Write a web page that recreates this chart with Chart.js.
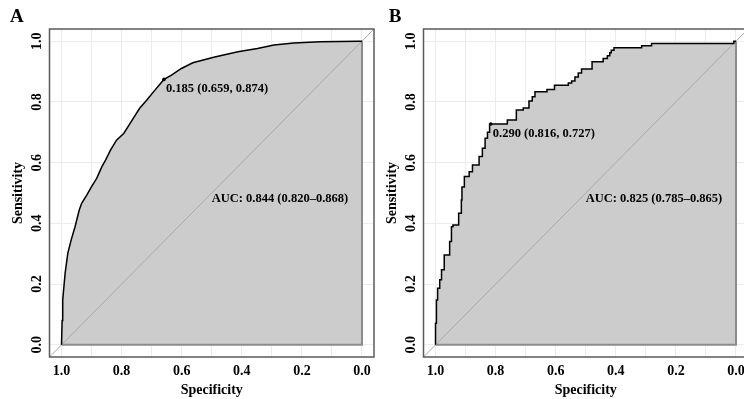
<!DOCTYPE html>
<html>
<head>
<meta charset="utf-8">
<script src="https://cdn.jsdelivr.net/npm/chart.js@4.4.1/dist/chart.umd.min.js"></script>
<style>
html, body { margin: 0; padding: 0; background: #fff; overflow: hidden; }
#wrap { position: relative; width: 744px; height: 399px; overflow: hidden; }
.panel { position: absolute; top: 0; width: 378px; height: 399px; }
#panelA { left: 0; }
#panelB { left: 374px; }
</style>
</head>
<body>
<div id="wrap">
  <div class="panel" id="panelA"><canvas id="rocA" width="378" height="399"></canvas></div>
  <div class="panel" id="panelB"><canvas id="rocB" width="378" height="399"></canvas></div>
</div>
<script>
// ROC curve A (specificity, sensitivity)
var specA = [1.000, 0.998, 0.996, 0.988, 0.979, 0.968, 0.955, 0.941, 0.933, 0.916, 0.900, 0.883, 0.866,
             0.853, 0.837, 0.817, 0.793, 0.765, 0.740, 0.716, 0.694, 0.659, 0.634, 0.601, 0.563, 0.490,
             0.413, 0.348, 0.293, 0.227, 0.140, 0.010, 0.000];
var sensA = [0.000, 0.080, 0.148, 0.236, 0.302, 0.345, 0.389, 0.444, 0.466, 0.493, 0.521, 0.548, 0.586,
             0.609, 0.641, 0.674, 0.696, 0.740, 0.779, 0.806, 0.833, 0.874, 0.888, 0.910, 0.929, 0.948,
             0.965, 0.976, 0.987, 0.994, 0.998, 1.000, 1.000];

// ROC curve B (step curve)
var specB = [1.000, 0.997, 0.993, 0.986, 0.980, 0.971, 0.953, 0.947, 0.942, 0.923, 0.914, 0.912, 0.904,
             0.888, 0.877, 0.855, 0.844, 0.835, 0.827, 0.820, 0.761, 0.731, 0.708, 0.689, 0.678, 0.669,
             0.629, 0.604, 0.558, 0.547, 0.536, 0.525, 0.514, 0.479, 0.442, 0.428, 0.420, 0.415, 0.406,
             0.314, 0.281, 0.007, 0.000];
var sensB = [0.000, 0.071, 0.148, 0.186, 0.214, 0.247, 0.296, 0.340, 0.389, 0.395, 0.433, 0.477, 0.520,
             0.554, 0.570, 0.592, 0.620, 0.647, 0.680, 0.700, 0.727, 0.740, 0.773, 0.780, 0.803, 0.817,
             0.833, 0.841, 0.855, 0.862, 0.869, 0.882, 0.895, 0.908, 0.932, 0.943, 0.952, 0.962, 0.970,
             0.978, 0.985, 0.992, 1.000];

// best threshold: [threshold, specificity, sensitivity]
var cutA = [0.185, 0.659, 0.874];
var cutB = [0.290, 0.816, 0.727];
// AUC with 95% CI
var aucA = [0.844, 0.820, 0.868];
var aucB = [0.825, 0.785, 0.865];

var xGrid = [0, 0.1, 0.2, 0.3, 0.4, 0.5, 0.6, 0.7, 0.8, 0.9, 1.0];
var xTicks = [0, 0.2, 0.4, 0.6, 0.8, 1.0];
var yTicks = [0, 0.2, 0.4, 0.6, 0.8, 1.0];

var SERIF = '"Liberation Serif", "Times New Roman", serif';
var boldFont = { family: SERIF, weight: 'bold', size: 14 };

function toPoints(spec, sens) {
    var pts = [], i;
    for (i = 0; i < spec.length; i += 1) {
        pts.push({ x: spec[i], y: sens[i] });
    }
    return pts;
}

var rocDecor = {
    id: 'rocDecor',
    afterDatasetDraw: function (chart, args) {
        if (args.index !== 1) {
            return;
        }
        // chance line, drawn over the AUC polygon but under the curve
        var ctx = chart.ctx, a = chart.chartArea, xs = chart.scales.x, ys = chart.scales.y;
        ctx.save();
        ctx.beginPath();
        ctx.rect(a.left, a.top, a.right - a.left, a.bottom - a.top);
        ctx.clip();
        ctx.beginPath();
        ctx.moveTo(xs.getPixelForValue(xs.max), ys.getPixelForValue(1 - xs.max));
        ctx.lineTo(xs.getPixelForValue(xs.min), ys.getPixelForValue(1 - xs.min));
        ctx.strokeStyle = '#a9a9a9';
        ctx.lineWidth = 1;
        ctx.stroke();
        ctx.restore();
    },
    afterDraw: function (chart) {
        var ctx = chart.ctx, a = chart.chartArea, xs = chart.scales.x, ys = chart.scales.y;
        var o = chart.options.plugins.rocDecor;
        ctx.save();
        ctx.strokeStyle = '#5a5a5a';
        ctx.lineWidth = 1.5;
        ctx.strokeRect(a.left, a.top, a.right - a.left, a.bottom - a.top);

        ctx.fillStyle = '#000';
        ctx.textBaseline = 'alphabetic';
        ctx.textAlign = 'left';
        ctx.font = 'bold 12.5px ' + SERIF;
        var cut = o.cut, auc = o.auc;
        ctx.fillText(cut[0].toFixed(3) + ' (' + cut[1].toFixed(3) + ', ' + cut[2].toFixed(3) + ')',
            xs.getPixelForValue(cut[1]) + 2, ys.getPixelForValue(cut[2]) + 12.5);
        ctx.fillText('AUC: ' + auc[0].toFixed(3) + ' (' + auc[1].toFixed(3) + '\u2013' + auc[2].toFixed(3) + ')',
            xs.getPixelForValue(0.5), ys.getPixelForValue(0.5) + 8.7);

        ctx.font = 'bold 19px ' + SERIF;
        ctx.fillText(o.letter, o.letterX, 21.5);
        ctx.restore();
    }
};

function makeRoc(canvasId, spec, sens, cut, auc, letter, letterX, stepped) {
    var pts = toPoints(spec, sens);
    var n = spec.length;
    var poly = [{ x: spec[0], y: 0 }, { x: spec[n - 1], y: 0 }, { x: spec[n - 1], y: sens[n - 1] }];
    var grid = { color: '#ececec', lineWidth: 1, drawTicks: false };

    return new Chart(document.getElementById(canvasId), {
        type: 'scatter',
        data: {
            datasets: [
                { data: pts, showLine: true, stepped: stepped, fill: 'origin', backgroundColor: '#cccccc',
                  borderWidth: 0, pointRadius: 0, order: 4 },
                { data: poly, showLine: true, fill: false, borderColor: '#8c8c8c', borderWidth: 2,
                  pointRadius: 0, order: 3 },
                { data: pts, showLine: true, stepped: stepped, fill: false, borderColor: '#000',
                  borderWidth: 1.5, pointRadius: 0, order: 2 },
                { data: [{ x: cut[1], y: cut[2] }], showLine: false, pointRadius: 1.8,
                  pointBackgroundColor: '#000', pointBorderWidth: 0, order: 1 }
            ]
        },
        options: {
            responsive: false,
            animation: false,
            devicePixelRatio: 1,
            layout: { padding: { left: 0, top: 29, right: 2, bottom: 0 } },
            plugins: {
                legend: { display: false },
                tooltip: { enabled: false },
                rocDecor: { cut: cut, auc: auc, letter: letter, letterX: letterX }
            },
            scales: {
                x: {
                    type: 'linear',
                    reverse: true,
                    min: -0.04,
                    max: 1.04,
                    afterBuildTicks: function (s) {
                        s.ticks = xGrid.map(function (v) { return { value: v }; });
                    },
                    afterFit: function (s) { s.height = 42; },
                    grid: grid,
                    border: { display: false },
                    ticks: {
                        autoSkip: false,
                        maxRotation: 0,
                        padding: 6,
                        color: '#000',
                        font: boldFont,
                        callback: function (v) {
                            var r = Math.round(v * 10) / 10;
                            return xTicks.indexOf(r) >= 0 ? r.toFixed(1) : '';
                        }
                    },
                    title: { display: true, text: 'Specificity', color: '#000', font: boldFont,
                             padding: { top: 0, bottom: 0 } }
                },
                y: {
                    type: 'linear',
                    min: -0.04,
                    max: 1.04,
                    afterBuildTicks: function (s) {
                        s.ticks = yTicks.map(function (v) { return { value: v }; });
                    },
                    afterFit: function (s) { s.width = 49.5; },
                    grid: grid,
                    border: { display: false },
                    ticks: {
                        minRotation: 90,
                        maxRotation: 90,
                        crossAlign: 'center',
                        padding: 3,
                        color: '#000',
                        font: boldFont,
                        callback: function (v) { return (Math.round(v * 10) / 10).toFixed(1); }
                    },
                    title: { display: true, text: 'Sensitivity', color: '#000', font: boldFont,
                             padding: { top: 9.9, bottom: 0 } }
                }
            }
        },
        plugins: [rocDecor]
    });
}

makeRoc('rocA', specA, sensA, cutA, aucA, 'A', 10, false);
makeRoc('rocB', specB, sensB, cutB, aucB, 'B', 14.7, 'after');
</script>
</body>
</html>
